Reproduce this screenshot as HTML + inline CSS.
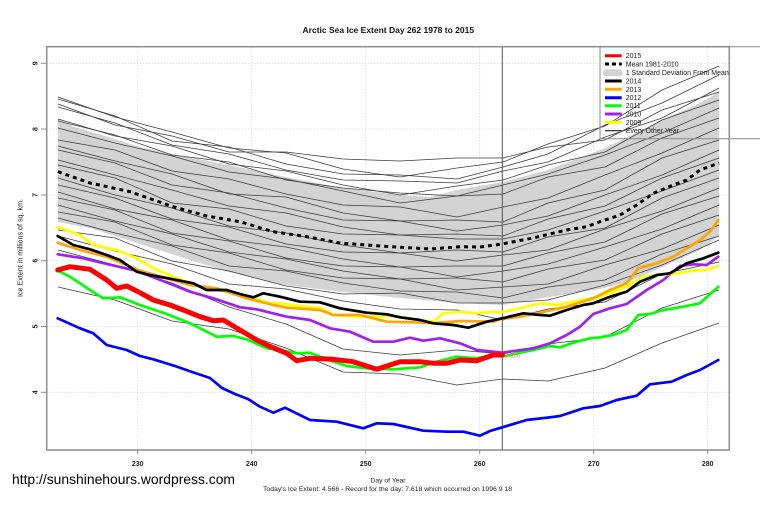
<!DOCTYPE html>
<html><head><meta charset="utf-8"><style>
html,body{margin:0;padding:0;background:#fff;}
svg{display:block;font-family:"Liberation Sans",Arial,sans-serif;}
</style></head><body>
<svg width="760" height="506" viewBox="0 0 760 506" xmlns="http://www.w3.org/2000/svg">
<rect x="0" y="0" width="760" height="506" fill="#fff"/>
<!-- title -->
<text x="388.3" y="33" font-size="8.5" font-weight="bold" text-anchor="middle" fill="#111">Arctic Sea Ice Extent Day 262 1978 to 2015</text>
<!-- grid -->
<g stroke="#d8d8d8" stroke-width="0.8" stroke-dasharray="1.5,1.5" fill="none">
<line x1="137.7" y1="47" x2="137.7" y2="450"/><line x1="251.7" y1="47" x2="251.7" y2="450"/>
<line x1="365.7" y1="47" x2="365.7" y2="450"/><line x1="479.7" y1="47" x2="479.7" y2="450"/>
<line x1="593.7" y1="47" x2="593.7" y2="450"/><line x1="707.7" y1="47" x2="707.7" y2="450"/>
<line x1="47" y1="63.3" x2="729" y2="63.3"/><line x1="47" y1="129" x2="729" y2="129"/>
<line x1="47" y1="195" x2="729" y2="195"/><line x1="47" y1="260.7" x2="729" y2="260.7"/>
<line x1="47" y1="326.5" x2="729" y2="326.5"/><line x1="47" y1="392.3" x2="729" y2="392.3"/>
</g>
<!-- SD band -->
<polygon fill="#d3d3d3" points="57.9,119 75,127 115,139 140,147 172,154 229,165 286,177 343,188 400,195 430,197 457,190 503,182 548,170 605,148 662,120 700,103 719,92 719,236 700,250 662,267 640,277 627,282 600,289 550,297 503,305 460,303 400,298 343,292 286,285 273,283 229,272 190,260 115,236 90,228 57.9,222"/>
<!-- every other year thin lines -->
<g fill="none" stroke="#3c3c3c" stroke-width="0.75" stroke-linejoin="round">
<polyline points="58,97 115,117 172,132 229,148 286,153 343,169 400,177 457,168 503,162 548,144 605,126 662,90 719,66"/>
<polyline points="58,99 115,116 172,141 229,147 286,164 343,174 400,175 457,179 503,167 548,154 605,125 662,103 719,75"/>
<polyline points="58,104 115,125 172,136 229,152 286,152 343,159 400,161 457,158 503,158 548,147 605,140 662,110 719,92"/>
<polyline points="58,107 115,123 172,145 229,154 286,170 343,180 400,181 457,183 503,171 548,162 605,137 662,118 719,88"/>
<polyline points="58,119 115,136 172,146 229,164 286,171 343,185 400,195 457,186 503,180 548,165 605,152 662,120 719,100"/>
<polyline points="58,121 115,135 172,155 229,162 286,180 343,188 400,193 457,196 503,185 548,174 605,155 662,133 719,108"/>
<polyline points="58,128 115,143 172,156 229,172 286,179 343,191 400,203 457,196 503,194 548,177 605,167 662,138 719,118"/>
<polyline points="58,140 115,150 172,171 229,179 286,194 343,205 400,207 457,217 503,207 548,198 605,175 662,153 719,128"/>
<polyline points="58,146 115,161 172,174 229,194 286,197 343,213 400,221 457,220 503,222 548,203 605,190 662,158 719,140"/>
<polyline points="58,150 115,163 172,185 229,193 286,208 343,220 400,221 457,231 503,225 548,216 605,195 662,175 719,150"/>
<polyline points="58,160 115,175 172,190 229,206 286,213 343,227 400,235 457,234 503,236 548,219 605,206 662,178 719,158"/>
<polyline points="58,165 115,178 172,203 229,209 286,226 343,234 400,235 457,239 503,239 548,230 605,211 662,191 719,170"/>
<polyline points="58,178 115,195 172,208 229,226 286,233 343,245 400,253 457,250 503,252 548,237 605,228 662,198 719,178"/>
<polyline points="58,185 115,198 172,219 229,227 286,244 343,252 400,253 457,261 503,255 548,250 605,229 662,211 719,188"/>
<polyline points="58,192 115,209 172,220 229,240 286,247 343,259 400,267 457,266 503,266 548,253 605,242 662,214 719,196"/>
<polyline points="58,198 115,210 172,233 229,241 286,258 343,266 400,267 457,277 503,271 548,264 605,247 662,229 719,205"/>
<polyline points="58,205 115,221 172,234 229,252 286,259 343,271 400,279 457,278 503,282 548,269 605,260 662,234 719,215"/>
<polyline points="58,212 115,222 172,245 229,253 286,270 343,278 400,279 457,290 503,287 548,284 605,265 662,249 719,225"/>
<polyline points="58,218 115,233 172,246 229,266 286,271 343,283 400,291 457,292 503,298 548,287 605,280 662,254 719,236"/>
<polyline points="58,230 115,238 172,261 229,271 286,286 343,294 400,293 457,303 503,303 548,300 605,285 662,265 719,240"/>
<polyline points="58,236 115,251 172,264 229,284 286,289 343,301 400,309 457,310 503,320 548,309 605,302 662,274 719,262"/>
<polyline points="58,287 115,300 172,321 229,329 286,348 343,372 400,374 457,385 503,379 548,381 605,368 662,343 719,323"/>
<polyline points="58,250 115,265 172,283 229,307 286,324 343,349 400,355 457,350 503,354 548,344 605,337 662,308 719,290"/>
</g>
<!-- vertical day line -->
<line x1="502.3" y1="47" x2="502.3" y2="450" stroke="#555" stroke-width="1"/>
<!-- colored series -->
<g fill="none" stroke-linejoin="round" stroke-linecap="round">
<polyline stroke="#0000ff" stroke-width="2.7" points="57.7,318.3 80,328.3 93.3,333.3 106.7,345 126.7,350 140,356 153.3,359.3 175,366 195,373 210,378 222,388 235,394 248,399 260,406.7 273.3,412.7 285,407.7 310,420 336.7,421.7 363.3,428.3 376.7,423.3 393.3,424 423.3,430.7 446.7,431.7 463.3,431.7 480,435.7 490,431 502.3,427.3 526.7,420 550,417.3 560,416 583.3,408.3 600,406 616.7,400 636.7,395.7 650,384.3 671.7,381.7 686.7,375 700,370 718.3,360"/>
<polyline stroke="#00ff00" stroke-width="2.7" points="57.7,270.7 70,276.7 90,290 103.3,298.3 120,297.3 140,305 166.7,314 190,323.3 216.7,336.7 233.3,336 246.7,339.3 266.7,348.3 280,350 296.7,353.3 310,352.7 326.7,359.3 346.7,366 366.7,368.3 393.3,369.3 420,367.3 436.7,361.7 456.7,356.7 476.7,358.3 493.3,355 502.3,356.7 520,352.7 536.7,349.3 550,346 560,347.3 573.3,342.7 590,338.3 600,337.3 613.3,335 626.7,330 638.3,315 650,314 663.3,310 683.3,306.7 700,303.3 718.3,286.7"/>
<polyline stroke="#a020f0" stroke-width="2.7" points="57.7,254.3 83.3,258.3 106.7,264 133.3,270 150,276 173.3,285 190,291.7 213.3,298.3 240,307.3 256.7,309.3 286.7,316.7 310,320 330,328.3 350,331.7 373.3,341.7 393.3,341.7 410,337.7 423.3,340.7 440,338.3 460,343.3 476.7,350 493.3,351.7 502.3,352.7 533.3,348.3 550,343.3 566.7,335 580,326.7 593.3,314 610,308.3 626.7,304 646.7,290 663.3,280 680,266 693.3,264.3 706.7,265 718.3,256.7"/>
<polyline stroke="#ffff00" stroke-width="2.7" points="57.7,227.3 80,235 93.3,245 116.7,250 136.7,258.3 153.3,268.3 173.3,276.7 190,283.3 206.7,288.3 226.7,291.7 250,296.7 270,303.3 280,303.3 300,306 320,308 333.3,315 360,316.7 393.3,316 420,320 433.3,321.7 443.3,313.3 460,311.7 476.7,313.3 493.3,311.7 500,312.7 520,308.3 540,303.3 556.7,305 573.3,301.7 600,296.7 626.7,286.7 643.3,276.7 660,275 676.7,273.3 693.3,270.7 706.7,270 718.3,266"/>
<polyline stroke="#ffa500" stroke-width="2.7" points="57.7,242.7 80,250 106.7,256.7 140,270.7 166.7,278.3 190,285 216.7,288.3 246.7,298.3 273.3,305 286.7,307.7 320,310 333.3,315 360,315 386.7,321.7 413.3,322.3 433.3,323.3 460,321 493.3,321.7 500,319 520,316.7 540,312.7 566.7,306.7 593.3,298.3 610,290 626.7,283.3 638.3,268.3 656.7,263.3 673.3,256.7 686.7,248.3 700,240 710,231.7 718.3,220"/>
<polyline stroke="#000" stroke-width="2.7" points="57.7,236 73.3,245 90,249.3 106.7,255 120,260 136.7,271.7 150,275 173.3,279.3 193.3,283.3 206.7,290 226.7,290 240,294 253.3,297.3 263.3,293.3 280,296.7 300,301.7 320,302.3 340,308.3 366.7,312.7 386.7,314.3 400,317.3 420,320 433.3,323.3 453.3,325 468.3,327.7 486.7,321.7 502.3,318.3 523.3,313.3 540,315 550,315.7 566.7,310 583.3,305 593.3,303.3 610,296.7 626.7,291.7 640,281.7 656.7,275 670,273.3 686.7,263.3 703.3,258.3 718.3,252.7"/>
<polyline stroke="#ff0000" stroke-width="5" points="57.7,270 70,266.7 90,269.3 106.7,280 116.7,288.3 126.7,286 140,292.7 153.3,300 170,305 183.3,310 200,316.7 213.3,320.7 223.3,320 240,330 256.7,340 270,346.5 286.7,353.3 296.7,360.7 310,358.3 333.3,359.3 353.3,361.7 376.7,369.3 400,361.7 420,361.7 433.3,363.3 446.7,363.3 460,360 476.7,360.7 493.3,355 502.3,355"/>
<polyline stroke="#000" stroke-width="3" stroke-dasharray="4,4" stroke-linecap="butt" points="57.9,171.7 90,183 130,191.7 173,206.7 206.7,216 240,221.7 273,231.7 306.7,236.7 340,243 380,246 430,249 460,246.7 480,247 502,244 520,240.5 533,238 566.7,230 586.7,226.7 600,221.7 620,215 636.7,205 653.3,193.3 673.3,185 686.7,180 700,170 719,163"/>
</g>
<text x="505" y="357.5" font-size="6" fill="#ff8080">4.566</text>
<!-- plot border -->
<rect x="46.7" y="46.7" width="682.6" height="403.3" fill="none" stroke="#8c8c8c" stroke-width="1.5"/>
<!-- legend -->
<path d="M600,46.7 L765,46.7 M600,46.7 L600,138.7 L765,138.7" fill="none" stroke="#8c8c8c" stroke-width="1"/>
<g stroke-width="3" fill="none">
<line x1="605" y1="55.7" x2="621.7" y2="55.7" stroke="#ff0000"/>
<line x1="605" y1="64" x2="621.7" y2="64" stroke="#000" stroke-dasharray="4,3"/>
<line x1="605" y1="81" x2="621.7" y2="81" stroke="#000"/>
<line x1="605" y1="89.3" x2="621.7" y2="89.3" stroke="#ffa500"/>
<line x1="605" y1="97.7" x2="621.7" y2="97.7" stroke="#0000ff"/>
<line x1="605" y1="105.7" x2="621.7" y2="105.7" stroke="#00ff00"/>
<line x1="605" y1="114" x2="621.7" y2="114" stroke="#a020f0"/>
<line x1="605" y1="122.3" x2="621.7" y2="122.3" stroke="#ffff00"/>
<line x1="605" y1="130.7" x2="621.7" y2="130.7" stroke="#000" stroke-width="1"/>
</g>
<rect x="602.7" y="69.3" width="20" height="7" rx="3.5" ry="3.5" fill="#d3d3d3"/>
<g font-size="7" fill="#222">
<text x="625.7" y="58.2">2015</text>
<text x="625.7" y="66.5">Mean 1981-2010</text>
<text x="625.7" y="75.2">1 Standard Deviation From Mean</text>
<text x="625.7" y="83.5">2014</text>
<text x="625.7" y="91.8">2013</text>
<text x="625.7" y="100.2">2012</text>
<text x="625.7" y="108.2">2011</text>
<text x="625.7" y="116.5">2010</text>
<text x="625.7" y="124.8">2009</text>
<text x="625.7" y="133.2">Every Other Year</text>
</g>
<!-- ticks -->
<g stroke="#8c8c8c" stroke-width="1">
<line x1="137.7" y1="450" x2="137.7" y2="454"/><line x1="251.7" y1="450" x2="251.7" y2="454"/>
<line x1="365.7" y1="450" x2="365.7" y2="454"/><line x1="479.7" y1="450" x2="479.7" y2="454"/>
<line x1="593.7" y1="450" x2="593.7" y2="454"/><line x1="707.7" y1="450" x2="707.7" y2="454"/>
<line x1="41" y1="63.3" x2="46.7" y2="63.3"/><line x1="41" y1="129" x2="46.7" y2="129"/>
<line x1="41" y1="195" x2="46.7" y2="195"/><line x1="41" y1="260.7" x2="46.7" y2="260.7"/>
<line x1="41" y1="326.5" x2="46.7" y2="326.5"/><line x1="41" y1="392.3" x2="46.7" y2="392.3"/>
</g>
<g font-size="7" font-weight="bold" fill="#222" text-anchor="middle">
<text x="137.7" y="465.8">230</text><text x="251.7" y="465.8">240</text>
<text x="365.7" y="465.8">250</text><text x="479.7" y="465.8">260</text>
<text x="593.7" y="465.8">270</text><text x="707.7" y="465.8">280</text>
<text transform="translate(37.5,63.3) rotate(-90)">9</text>
<text transform="translate(37.5,129) rotate(-90)">8</text>
<text transform="translate(37.5,195) rotate(-90)">7</text>
<text transform="translate(37.5,260.7) rotate(-90)">6</text>
<text transform="translate(37.5,326.5) rotate(-90)">5</text>
<text transform="translate(37.5,392.3) rotate(-90)">4</text>
</g>
<text transform="translate(22.5,248) rotate(-90)" font-size="7" fill="#222" text-anchor="middle" textLength="98" lengthAdjust="spacingAndGlyphs">Ice Extent in millions of sq. km.</text>
<text x="388" y="482.5" font-size="6.8" fill="#222" text-anchor="middle">Day of Year</text>
<text x="387.5" y="491" font-size="6.6" fill="#222" text-anchor="middle" textLength="249" lengthAdjust="spacingAndGlyphs">Today's Ice Extent: 4.566  - Record for the day: 7.618 which occurred on 1996 9 18</text>
<text x="12" y="484" font-size="14" fill="#000" textLength="223" lengthAdjust="spacingAndGlyphs">http://sunshinehours.wordpress.com</text>
</svg>
</body></html>
